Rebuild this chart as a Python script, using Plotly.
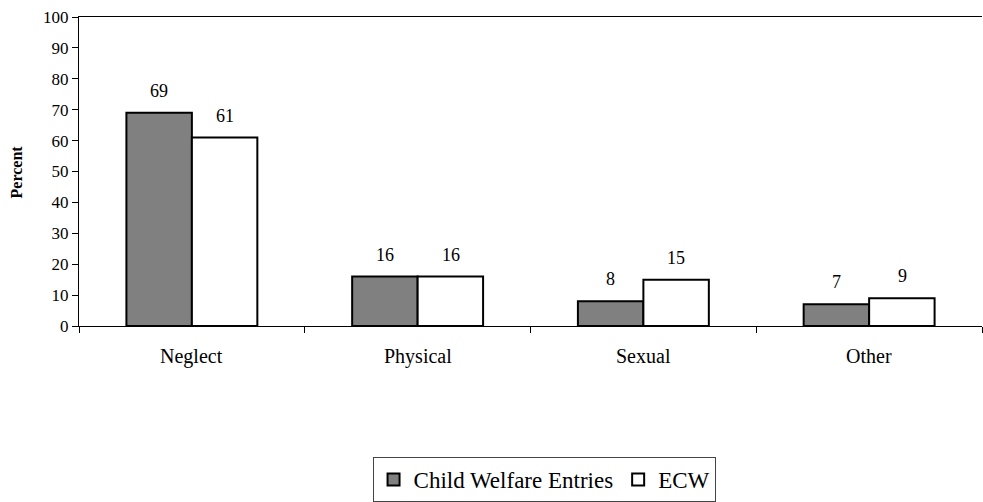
import plotly.graph_objects as go

categories = ["Neglect", "Physical", "Sexual", "Other"]
cwe_values = [69, 16, 8, 7]
ecw_values = [61, 16, 15, 9]
series_names = ["Child Welfare Entries", "ECW"]
y_ticks = list(range(0, 101, 10))

FONT = "Liberation Serif"

fig = go.Figure()
fig.add_trace(go.Bar(
    x=categories, y=cwe_values, name=series_names[0],
    marker=dict(color="#808080", line=dict(color="black", width=2)),
))
fig.add_trace(go.Bar(
    x=categories, y=ecw_values, name=series_names[1],
    marker=dict(color="white", line=dict(color="black", width=2)),
))

# value labels above bars
for i, (a, b) in enumerate(zip(cwe_values, ecw_values)):
    fig.add_annotation(x=i, y=a, text=str(a), xshift=-33, yshift=22,
                       showarrow=False, font=dict(family=FONT, size=18, color="black"))
    fig.add_annotation(x=i, y=b, text=str(b), xshift=33, yshift=22,
                       showarrow=False, font=dict(family=FONT, size=18, color="black"))

# category labels placed a bit further below the axis
for i, c in enumerate(categories):
    fig.add_annotation(x=i, y=0, yref="y", text=c, yshift=-30, showarrow=False,
                       yanchor="middle", font=dict(family=FONT, size=20, color="black"))

fig.add_annotation(xref="paper", yref="paper", x=-0.0687, y=0.5, text="<b>Percent</b>",
                   textangle=-90, showarrow=False, xanchor="center", yanchor="middle",
                   font=dict(family=FONT, size=16, color="black"))

fig.update_layout(
    width=983, height=502,
    margin=dict(l=79, r=1, t=17, b=175),
    plot_bgcolor="white", paper_bgcolor="white",
    barmode="group", bargap=0.42, bargroupgap=0,
    font=dict(family=FONT, color="black"),
    showlegend=True,
    legend=dict(orientation="h", x=0.515, xanchor="center", y=-0.5645, yanchor="bottom",
                bordercolor="#444", borderwidth=1, font=dict(size=23, family=FONT, color="black"),
                itemwidth=30, tracegroupgap=0),
    xaxis=dict(
        showline=True, linecolor="black", linewidth=1, mirror=True, automargin=False,
        ticks="outside", tickson="boundaries", ticklen=6, tickcolor="black",
        showticklabels=False, showgrid=False, range=[-0.5, 3.5],
    ),
    yaxis=dict(
        range=[0, 100], tickvals=y_ticks, showline=True, linecolor="black", linewidth=1,
        ticks="outside", ticklen=6, tickcolor="black", showgrid=False, zeroline=False,
        automargin=False, tickfont=dict(size=17, family=FONT),
    ),
)

fig.write_html("out.html", config={"displayModeBar": False},
               post_script="document.body.style.margin='0';document.body.style.overflow='hidden';")
